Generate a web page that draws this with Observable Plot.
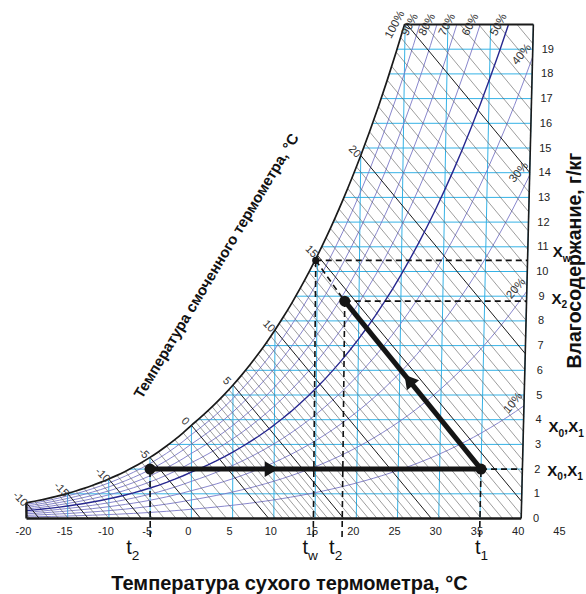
<!DOCTYPE html>
<html><head><meta charset="utf-8">
<script src="https://cdn.jsdelivr.net/npm/d3@7"></script>
<script src="https://cdn.jsdelivr.net/npm/@observablehq/plot@0.6"></script>
<style>body{margin:0;background:#fff}</style>
</head><body><div id="chart"></div>
<script>
// ---- data ----
const tempC = [-25,-24,-23,-22,-21,-20,-19,-18,-17,-16,-15,-14,-13,-12,-11,-10,-9,-8,-7,-6,-5,-4,-3,-2,-1,0,
  1,2,3,4,5,6,7,8,9,10,11,12,13,14,15,16,17,18,19,20,21,22,23,24,25,26,27,28,29,30,31,32,33,34,35,36,37,38,39,40];
const satPressureKPa = [0.0635,0.0701,0.0773,0.0852,0.0938,0.1032,0.1135,0.1248,0.1371,0.1505,0.1652,0.1811,0.1984,0.2172,0.2376,0.2597,0.2837,0.3097,0.3379,0.3684,0.4014,0.4371,0.4756,0.5173,0.5622,0.6112,
  0.6571,0.7060,0.7581,0.8135,0.8726,0.9354,1.0021,1.0730,1.1482,1.2282,1.3129,1.4028,1.4981,1.5989,1.7057,1.8188,1.9383,2.0647,2.1982,2.3392,2.4881,2.6452,2.8109,2.9856,3.1697,3.3637,3.5679,3.7828,4.0089,4.2467,4.4966,4.7592,5.0351,5.3247,5.6286,5.9475,6.2818,6.6324,6.9997,7.3844];
const rhLevels = [10,20,30,40,50,60,70,80,90];
const rhTopLabels = [100,90,80,70,60,50];
const rhSideLabels = [40,30,20,10];
const wetBulbTemps = [-21,-20,-19,-18,-17,-16,-15,-14,-13,-12,-11,-10,-9,-8,-7,-6,-5,-4,-3,-2,-1,
  0,0.5,1,1.5,2,2.5,3,3.5,4,4.5,5,5.5,6,6.5,7,7.5,8,8.5,9,9.5,10,10.5,11,11.5,12,12.5,13,13.5,14,14.5,
  15,15.5,16,16.5,17,17.5,18,18.5,19,19.5,20,20.5,21,21.5,22,22.5,23,23.5,24,24.5,25,25.5,26,26.5,27,27.5,28];
const wetBulbLabelTemps = [-20,-15,-10,-5,0,5,10,15,20];
const wetBulbLabelTexts = ["-10","-15","-10","-5","0","5","10","15","20"];
const isothermTemps = [-15,-10,-5,0,5,10,15,20,25,30,35,40];
const gridHumidity = [1,2,3,4,5,6,7,8,9,10,11,12,13,14,15,16,17,18,19];
const xTickValues = [-20,-15,-10,-5,0,5,10,15,20,25,30,35,40,45];
const yTickValues = [0,1,2,3,4,5,6,7,8,9,10,11,12,13,14,15,16,17,18,19];
const processT = [-5, 35, 18.3];
const processW = [2, 2, 8.8];
const wetPointT = 14.8, wetPointW = 10.45;
const rightLabelTexts = ["X_w","X_2","X_0,X_1","X_0,X_1"];
const rightLabelW = [10.78, 8.88, 3.68, 1.92];
const bottomLabelTexts = ["t_2","t_w","t_2","t_1"];
const bottomLabelT = [-7.1, 14.4, 17.5, 35.2];

// ---- helpers ----
const P = 101.325, tMin = -20, tMax = 40, wTop = 20;
const W = p => 622 * p / (P - p);                 // g/kg
const proj = (t, w) => t * (1 + 0.001849 * w);     // skewed dry-bulb axis
const sat = tempC.map((t, i) => ({t, p: satPressureKPa[i]}));
function pSat(t) {
  const i = Math.min(sat.length - 2, Math.max(0, Math.floor(t - sat[0].t)));
  const a = sat[i], b = sat[i + 1], f = t - a.t;
  return Math.exp(Math.log(a.p) + f * (Math.log(b.p) - Math.log(a.p)));
}
function tAtPressure(p) {
  for (let i = 0; i < sat.length - 1; i++) {
    if (sat[i].p <= p && p <= sat[i+1].p)
      return sat[i].t + (Math.log(p) - Math.log(sat[i].p)) / (Math.log(sat[i+1].p) - Math.log(sat[i].p));
  }
  return tMax;
}
const dew = w => tAtPressure(w * P / (622 + w));
const W0 = 1.006, HV = 2.501;
const enth = (X, w) => W0 * X + HV * w;

// curves
const satCurve = sat.filter(d => d.t >= tMin && d.t <= 26).map(d => ({x: proj(d.t, W(d.p)), y: W(d.p)}));
const rhData = rhLevels.flatMap(r => sat.filter(d => d.t >= tMin).map(d => {
  const w = W(r / 100 * d.p); return {r, x: proj(d.t, w), y: w};
}));
const hGrid = gridHumidity.map(w => ({x1: proj(dew(w), w), y1: w, x2: proj(tMax, w), y2: w}));
const vGrid = isothermTemps.map(t => { const w = Math.min(W(pSat(t)), wTop); return {x1: t, y1: 0, x2: proj(t, w), y2: w}; });
const wbLines = wetBulbTemps.map(tw => {
  const w0 = W(pSat(tw)), x0 = proj(tw, w0), h = enth(x0, w0);
  const wEnd = (h - W0 * tMax) / (HV + W0 * tMax * 0.001849);
  return wEnd >= 0 ? {tw, x1: x0, y1: w0, x2: proj(tMax, wEnd), y2: wEnd}
                   : {tw, x1: x0, y1: w0, x2: h / W0, y2: 0};
});
const topLabelData = rhTopLabels.map(r => {
  const t = tAtPressure(wTop * P / (622 + wTop) / (r / 100)); return {text: r + "%", x: proj(t, wTop), y: wTop};
});
const sideLabelData = rhSideLabels.map(r => { const w = W(r / 100 * pSat(tMax)); return {text: r + "%", x: proj(tMax, w), y: w}; });
const wbLabelData = wetBulbLabelTemps.map((t, i) => { const w = W(pSat(t)); return {text: wetBulbLabelTexts[i], x: proj(t, w), y: w}; });

const pts = processT.map((t, i) => ({x: proj(t, processW[i]), y: processW[i]}));
const wetPt = {x: proj(wetPointT, wetPointW), y: wetPointW};
const below = -0.75;
const dashV = [[processT[0], processW[0]], [processT[1], processW[1]], [wetPointT, wetPointW], [processT[2], processW[2]]]
  .map(([t, w]) => ({x1: proj(t, below), y1: below, x2: proj(t, w), y2: w}));
const dashH = [[processT[1], processW[1]], [wetPointT, wetPointW], [processT[2], processW[2]]]
  .map(([t, w]) => ({x1: proj(t, w), y1: w, x2: proj(tMax, w), y2: w}));
const dashD = [{x1: wetPt.x, y1: wetPt.y, x2: pts[2].x, y2: pts[2].y}];
const processSegs = [{a: pts[0], b: pts[1], f: 0.36}, {a: pts[1], b: pts[2], f: 0.52}];

// pixel geometry (for arrow orientation)
const width = 586, height = 594, mL = 26, mR = 24.1, mT = 24, mB = 76;
const kx = (width - mL - mR) / 65, ky = (height - mT - mB) / 20;
const arrows = processSegs.map(s => ({
  x: s.a.x + (s.b.x - s.a.x) * s.f, y: s.a.y + (s.b.y - s.a.y) * s.f,
  rot: Math.atan2(-(s.b.y - s.a.y) * ky, (s.b.x - s.a.x) * kx) * 180 / Math.PI + 90
}));

const font = "'Liberation Sans', Arial, sans-serif";
const L = {x1: "x1", y1: "y1", x2: "x2", y2: "y2"};
const chart = Plot.plot({
  width, height, marginLeft: mL, marginRight: mR, marginTop: mT, marginBottom: mB,
  x: {domain: [-20, 45], axis: null},
  y: {domain: [0, 20], axis: null},
  style: {fontFamily: font, background: "#fff", color: "#222"},
  marks: [
    Plot.link(hGrid, {...L, stroke: "#35b2e6", strokeWidth: 1, clip: true}),
    Plot.link(vGrid, {...L, stroke: "#35b2e6", strokeWidth: 1, clip: true}),
    Plot.line(rhData.filter(d => d.r !== 50), {x: "x", y: "y", z: "r", stroke: "#7a78c6", strokeWidth: 0.9, clip: true}),
    Plot.link(wbLines.filter(d => d.tw % 5 !== 0), {...L, stroke: "#5a5a5a", strokeWidth: 0.6, clip: true}),
    Plot.link(wbLines.filter(d => d.tw % 5 === 0), {...L, stroke: "#1a1a1a", strokeWidth: 1, clip: true}),
    Plot.line(rhData.filter(d => d.r === 50), {x: "x", y: "y", stroke: "#27278f", strokeWidth: 1.4, clip: true}),
    Plot.line(satCurve, {x: "x", y: "y", stroke: "#1a1a1a", strokeWidth: 1.7, curve: "catmull-rom", clip: true}),
    // boundaries
    Plot.link([{x1: tMin, y1: 0, x2: tMax, y2: 0}], {...L, stroke: "#1a1a1a", strokeWidth: 2.6}),
    Plot.link([{x1: tMin, y1: 0, x2: proj(tMin, W(pSat(tMin))), y2: W(pSat(tMin))}], {...L, stroke: "#1a1a1a", strokeWidth: 2.4}),
    Plot.link([{x1: tMax, y1: 0, x2: proj(tMax, wTop), y2: wTop}], {...L, stroke: "#1a1a1a", strokeWidth: 1.6}),
    Plot.link([{x1: proj(dew(wTop), wTop), y1: wTop, x2: proj(tMax, wTop), y2: wTop}], {...L, stroke: "#1a1a1a", strokeWidth: 2}),
    // dashed construction lines
    Plot.link([...dashV, ...dashH, ...dashD], {...L, stroke: "#111", strokeWidth: 1.6, strokeDasharray: "6,4"}),
    // process
    Plot.link(processSegs, {x1: d => d.a.x, y1: d => d.a.y, x2: d => d.b.x, y2: d => d.b.y, stroke: "#151515", strokeWidth: 5}),
    Plot.dot(pts, {x: "x", y: "y", r: 5.5, fill: "#151515"}),
    Plot.dot([wetPt], {x: "x", y: "y", r: 3.6, fill: "#151515"}),
    Plot.dot(arrows, {x: "x", y: "y", symbol: "triangle", r: 5.8, fill: "#151515", rotate: "rot"}),
    // labels
    Plot.text(topLabelData, {x: "x", y: "y", text: "text", dx: -10, dy: 0, rotate: -62, fontSize: 11.5, fill: "#333"}),
    Plot.text(sideLabelData, {x: "x", y: "y", text: "text", dx: -11, dy: -3, rotate: -50, fontSize: 11.5, fill: "#333"}),
    Plot.text(wbLabelData, {x: "x", y: "y", text: "text", dx: -6, dy: -4, rotate: 45, fontSize: 11, fill: "#333"}),
    Plot.text(xTickValues, {x: d => d, y: 0, text: d => String(d), dx: -3, dy: 13, fontSize: 11, fill: "#222"}),
    Plot.text(yTickValues, {x: d => proj(tMax, d), y: d => d, text: d => String(d), dx: 15, fontSize: 11, fill: "#222"}),
    Plot.text(rightLabelTexts.map((s, i) => ({s, w: rightLabelW[i]})), {x: d => proj(tMax, d.w), y: "w", text: "s", dx: 25, textAnchor: "start", fontSize: 15, fontWeight: "bold", fill: "#111"}),
    Plot.text(bottomLabelTexts.map((s, i) => ({s, t: bottomLabelT[i]})), {x: "t", y: 0, text: "s", dy: 29, fontSize: 20, fill: "#111"}),
    Plot.text(["Температура сухого термометра, °C"], {frameAnchor: "bottom", textAnchor: "middle", lineAnchor: "middle", dx: -5, dy: 65, fontSize: 20, fontWeight: "bold", fill: "#111"}),
    Plot.text(["Влагосодержание, г/кг"], {frameAnchor: "right", textAnchor: "middle", lineAnchor: "middle", dx: 12.5, dy: -11, rotate: -90, fontSize: 19.5, fontWeight: "bold", fill: "#111"}),
    Plot.text(["Температура смоченного термометра, °C"], {frameAnchor: "top-left", textAnchor: "middle", lineAnchor: "middle", dx: 190, dy: 241.5, rotate: -59, fontSize: 15, fontWeight: "bold", fill: "#111"})
  ]
});
document.getElementById("chart").append(chart);

// subscripts: "X_0" -> X with subscript 0
d3.select(chart).selectAll("text").each(function() {
  const s = this.textContent;
  if (!s.includes("_")) return;
  const fs = parseFloat(getComputedStyle(this).fontSize);
  const parts = s.split(/_(.)/);
  this.textContent = "";
  let down = false;
  parts.forEach((p, i) => {
    if (!p) return;
    const ts = d3.select(this).append("tspan").text(p);
    if (i % 2 === 1) { ts.attr("font-size", fs * 0.68); if (!down) ts.attr("dy", fs * 0.3); down = true; }
    else if (down) { ts.attr("dy", -fs * 0.3); down = false; }
  });
});
</script>
</body></html>
